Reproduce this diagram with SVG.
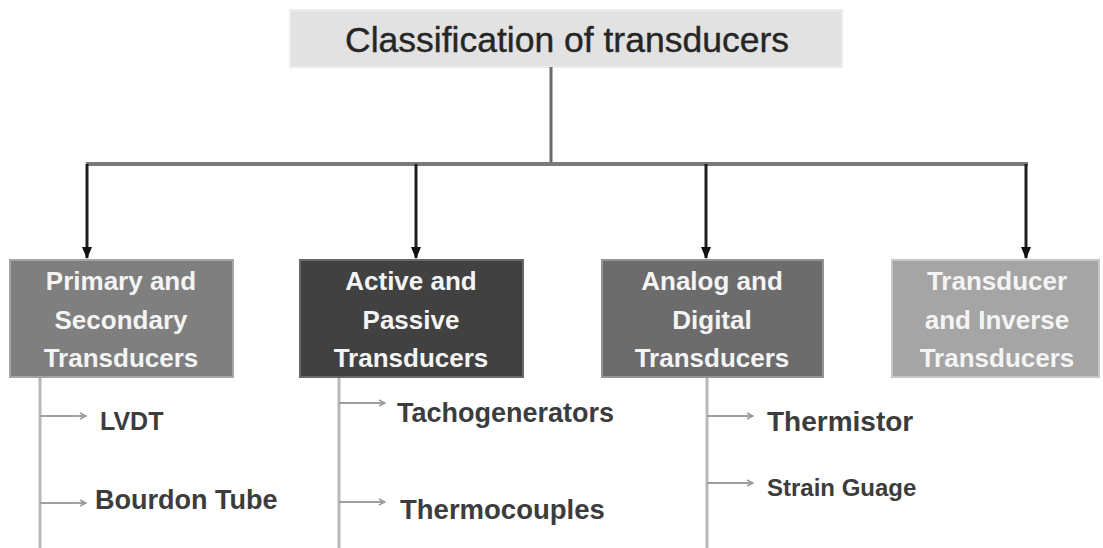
<svg xmlns="http://www.w3.org/2000/svg" width="1103" height="548" viewBox="0 0 1103 548">
  <style>
    .title { font-family: "Liberation Sans", Arial, sans-serif; font-size: 35.5px; fill: #262626; text-anchor: middle; stroke: #262626; stroke-width: 0.4; }
    .box-label { font-family: "Liberation Sans", Arial, sans-serif; font-size: 26px; font-weight: bold; fill: #f4f4f4; text-anchor: middle; }
    .item { font-family: "Liberation Sans", Arial, sans-serif; font-size: 27px; font-weight: bold; fill: #3c3c3c; }
    .trunk { stroke: #6a6a6a; stroke-width: 3; fill: none; }
    .bus { stroke: #7a7a7a; stroke-width: 4; fill: none; }
    .drop { stroke: #1e1e1e; stroke-width: 3; fill: none; }
    .spine { stroke: #b8b8b8; stroke-width: 3; fill: none; }
    .leaf { stroke: #a0a0a0; stroke-width: 2; fill: none; }
  </style>
  <defs>
    <marker id="head" markerWidth="12" markerHeight="10" refX="11" refY="5" orient="auto" markerUnits="userSpaceOnUse">
      <path d="M0,0 L12,5 L0,10 Z" fill="#111"/>
    </marker>
    <marker id="chev" markerWidth="8" markerHeight="8" refX="7" refY="4" orient="auto" markerUnits="userSpaceOnUse">
      <path d="M1,1 L7,4 L1,7" fill="none" stroke="#999" stroke-width="1.5"/>
    </marker>
  </defs>

  <rect width="1103" height="548" fill="#ffffff"/>

  <!-- root -->
  <g id="root">
    <rect x="290" y="10" width="552" height="57" fill="#e2e2e2" stroke="#ececec" stroke-width="2"/>
    <text class="title" x="567" y="52">Classification of transducers</text>
  </g>

  <!-- connectors -->
  <g id="connectors">
    <line class="trunk" x1="551" y1="67" x2="551" y2="164"/>
    <line class="bus" x1="86" y1="164" x2="1028" y2="164"/>
    <line class="drop" x1="87" y1="164" x2="87" y2="258" marker-end="url(#head)"/>
    <line class="drop" x1="416" y1="164" x2="416" y2="258" marker-end="url(#head)"/>
    <line class="drop" x1="706" y1="164" x2="706" y2="258" marker-end="url(#head)"/>
    <line class="drop" x1="1026" y1="164" x2="1026" y2="258" marker-end="url(#head)"/>

    <!-- sub-item spines -->
    <line class="spine" x1="40" y1="378" x2="40" y2="548"/>
    <line class="spine" x1="339" y1="378" x2="339" y2="548"/>
    <line class="spine" x1="707" y1="378" x2="707" y2="548"/>

    <!-- sub-item arrows -->
    <line class="leaf" x1="40" y1="416" x2="86" y2="416" marker-end="url(#chev)"/>
    <line class="leaf" x1="40" y1="503" x2="86" y2="503" marker-end="url(#chev)"/>
    <line class="leaf" x1="339" y1="403" x2="385" y2="403" marker-end="url(#chev)"/>
    <line class="leaf" x1="339" y1="502" x2="385" y2="502" marker-end="url(#chev)"/>
    <line class="leaf" x1="707" y1="416" x2="753" y2="416" marker-end="url(#chev)"/>
    <line class="leaf" x1="707" y1="483" x2="753" y2="483" marker-end="url(#chev)"/>
  </g>

  <!-- category boxes -->
  <g id="primary-secondary">
    <rect x="10" y="260" width="223" height="117" fill="#7f7f7f" stroke="#a4a4a4" stroke-width="2"/>
    <text class="box-label" x="121" y="290">Primary and</text>
    <text class="box-label" x="121" y="329">Secondary</text>
    <text class="box-label" x="121" y="367">Transducers</text>
  </g>

  <g id="active-passive">
    <rect x="300" y="260" width="223" height="117" fill="#414141" stroke="#686868" stroke-width="2"/>
    <text class="box-label" x="411" y="290">Active and</text>
    <text class="box-label" x="411" y="329">Passive</text>
    <text class="box-label" x="411" y="367">Transducers</text>
  </g>

  <g id="analog-digital">
    <rect x="602" y="260" width="221" height="117" fill="#6c6c6c" stroke="#949494" stroke-width="2"/>
    <text class="box-label" x="712" y="290">Analog and</text>
    <text class="box-label" x="712" y="329">Digital</text>
    <text class="box-label" x="712" y="367">Transducers</text>
  </g>

  <g id="transducer-inverse">
    <rect x="892" y="260" width="207" height="117" fill="#a5a5a5" stroke="#c6c6c6" stroke-width="2"/>
    <text class="box-label" x="997" y="290">Transducer</text>
    <text class="box-label" x="997" y="329">and Inverse</text>
    <text class="box-label" x="997" y="367">Transducers</text>
  </g>

  <!-- sub-items -->
  <g id="lvdt"><text class="item" x="100" y="430" style="font-size:25px">LVDT</text></g>
  <g id="bourdon-tube"><text class="item" x="95" y="509">Bourdon Tube</text></g>
  <g id="tachogenerators"><text class="item" x="397" y="422">Tachogenerators</text></g>
  <g id="thermocouples"><text class="item" x="400" y="519" style="font-size:27.5px">Thermocouples</text></g>
  <g id="thermistor"><text class="item" x="767" y="431" style="font-size:28px">Thermistor</text></g>
  <g id="strain-guage"><text class="item" x="767" y="496" style="font-size:24px">Strain Guage</text></g>
</svg>
